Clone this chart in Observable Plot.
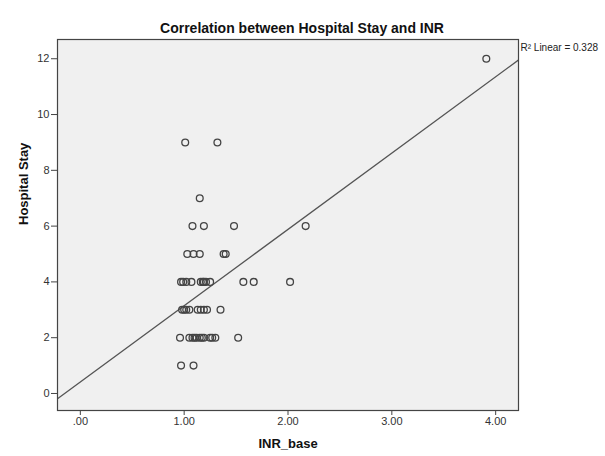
<!DOCTYPE html>
<html>
<head>
<meta charset="utf-8">
<script src="https://cdn.jsdelivr.net/npm/d3@7"></script>
<script src="https://cdn.jsdelivr.net/npm/@observablehq/plot@0.6"></script>
<style>
  html, body { margin: 0; padding: 0; background: #fff; }
</style>
</head>
<body>
<div id="chart"></div>
<script>
// ---- data ----
const stayLevels = [1, 2, 3, 4, 5, 6, 7, 9, 12];
const inrByStay = [
  [0.97, 1.09],
  [0.96, 1.05, 1.08, 1.10, 1.12, 1.15, 1.17, 1.19, 1.25, 1.27, 1.30, 1.52],
  [0.98, 1.00, 1.02, 1.05, 1.13, 1.16, 1.19, 1.22, 1.35],
  [0.97, 0.99, 1.02, 1.07, 1.16, 1.18, 1.19, 1.21, 1.25, 1.57, 1.67, 2.02],
  [1.03, 1.09, 1.15, 1.38, 1.40],
  [1.08, 1.19, 1.48, 2.17],
  [1.15],
  [1.01, 1.32],
  [3.91]
];
const fitIntercept = 0.41;
const fitSlope = 2.736;
const r2Text = "R\u00B2 Linear = 0.328";
const titleText = "Correlation between Hospital Stay and INR";
const xLabel = "INR_base";
const yLabel = "Hospital Stay";
const xTicks = [0, 1, 2, 3, 4];
const xTickLabels = [".00", "1.00", "2.00", "3.00", "4.00"];
const yTicks = [0, 2, 4, 6, 8, 10, 12];
const xDomain = [-0.22, 4.22];
const yDomain = [-0.61, 12.69];

const points = stayLevels.flatMap((s, i) => inrByStay[i].map(v => ({inr: v, stay: s})));
const fitLine = xDomain.map(x => ({x, y: fitIntercept + fitSlope * x}));

const ink = "#444";
const chart = Plot.plot({
  width: 605,
  height: 456,
  marginLeft: 57,
  marginRight: 87,
  marginTop: 39,
  marginBottom: 46,
  style: {fontFamily: "Liberation Sans, Arial, sans-serif", background: "#fff", color: "#222"},
  x: {domain: xDomain},
  y: {domain: yDomain},
  marks: [
    Plot.frame({fill: "#f0f0f0", stroke: null}),
    Plot.line(fitLine, {x: "x", y: "y", stroke: "#555", strokeWidth: 1.3, clip: true}),
    Plot.dot(points, {x: "inr", y: "stay", r: 3.4, stroke: ink, strokeWidth: 1.3, fill: "none"}),
    Plot.frame({stroke: ink, strokeWidth: 1.2}),
    Plot.axisX({ticks: xTicks, tickFormat: d => xTickLabels[xTicks.indexOf(d)], tickSize: 5, tickPadding: 2, fontSize: 11, label: null, stroke: ink, fill: "#333"}),
    Plot.axisY({ticks: yTicks, tickSize: 6, tickPadding: 2, fontSize: 11, label: null, stroke: ink, fill: "#333"}),
    Plot.text([titleText], {frameAnchor: "top", lineAnchor: "middle", dy: -11, dx: 14, fontSize: 14, fontWeight: "bold", fill: "#111"}),
    Plot.text([r2Text], {frameAnchor: "top-right", textAnchor: "start", lineAnchor: "middle", dx: 2, dy: 8, fontSize: 10, fill: "#222"}),
    Plot.text([xLabel], {frameAnchor: "bottom", lineAnchor: "middle", dy: 33, fontSize: 13, fontWeight: "bold", fill: "#111"}),
    Plot.text([yLabel], {frameAnchor: "left", lineAnchor: "middle", rotate: -90, dx: -34, fontSize: 13, fontWeight: "bold", fill: "#111"})
  ]
});
document.getElementById("chart").appendChild(chart);
</script>
</body>
</html>
